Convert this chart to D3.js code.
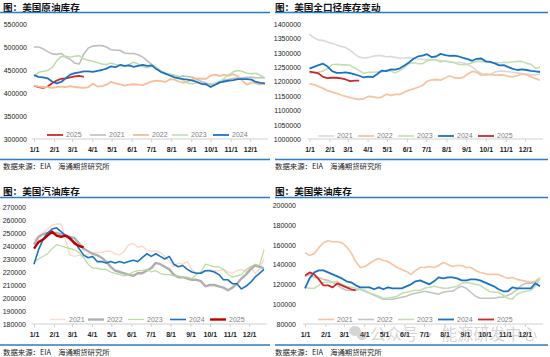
<!DOCTYPE html>
<html><head><meta charset="utf-8">
<script src="https://cdn.jsdelivr.net/npm/d3@7"></script>
<style>
html,body{margin:0;padding:0;background:#fff;}
svg{display:block;font-family:"Liberation Sans",Arial,sans-serif;}
</style></head><body>
<svg id="c" width="550" height="357"></svg>
<script>
// ---------- categories ----------
const weekIndex = d3.range(52);               // weekly observations, week 0 = first week of Jan
const monthStartDays = [0,31,59,90,120,151,181,212,243,273,304,334];
const monthLabels = ["1/1","2/1","3/1","4/1","5/1","6/1","7/1","8/1","9/1","10/1","11/1","12/1"];
const yearNames = ["2021","2022","2023","2024","2025"];

// ---------- tick labels ----------
const crudeTicks = [300000,350000,400000,450000,500000,550000];
const totalTicks = [1000000,1050000,1100000,1150000,1200000,1250000,1300000,1350000,1400000];
const gasTicks = [180000,190000,200000,210000,220000,230000,240000,250000,260000,270000];
const dslTicks = [80000,100000,120000,140000,160000,180000,200000];

// ---------- series: US crude stocks ----------
const crude2021 = [500000,500000,496000,490000,485000,484000,486000,478000,473000,465000,463000,485000,498000,502000,503000,503000,500000,494000,493000,493000,487000,486000,486000,483000,478000,470000,462000,455000,447000,442000,440000,438000,436000,437000,436000,434000,430000,425000,422000,418000,418000,422000,428000,430000,432000,432000,433000,434000,434000,433000,433000,433000];
const crude2022 = [416000,414000,413000,413000,411000,413000,414000,413000,415000,413000,412000,411000,413000,420000,414000,415000,418000,424000,421000,419000,416000,418000,419000,418000,417000,421000,425000,427000,426000,424000,430000,429000,425000,422000,425000,430000,432000,431000,431000,438000,440000,437000,440000,437000,441000,436000,427000,418000,423000,421000,419000,420000];
const crude2023 = [437000,445000,447000,449000,455000,470000,479000,480000,478000,480000,481000,474000,471000,469000,466000,463000,462000,465000,462000,460000,458000,462000,467000,463000,457000,455000,458000,455000,448000,443000,441000,439000,434000,427000,421000,420000,422000,420000,418000,420000,422000,425000,432000,440000,446000,449000,447000,443000,442000,443000,438000,433000];
const crude2024 = [439000,435000,434000,432000,425000,421000,424000,432000,440000,443000,445000,447000,447000,446000,448000,450000,453000,458000,456000,461000,459000,460000,457000,459000,461000,459000,460000,452000,446000,442000,438000,434000,432000,430000,429000,427000,424000,420000,419000,413000,418000,423000,425000,427000,428000,430000,430000,430000,429000,424000,422000,421000];
const crude2025 = [416000,413000,411000,414000,421000,427000,431000,432000,434000,436000,437000,435000];

// ---------- series: US total stocks ----------
const total2021 = [1365000,1352000,1344000,1343000,1337000,1332000,1328000,1322000,1318000,1308000,1295000,1285000,1282000,1283000,1288000,1290000,1290000,1286000,1287000,1284000,1281000,1282000,1284000,1280000,1278000,1277000,1276000,1277000,1275000,1273000,1270000,1269000,1267000,1266000,1265000,1258000,1250000,1238000,1228000,1222000,1225000,1233000,1236000,1236000,1234000,1232000,1230000,1228000,1226000,1223000,1223000,1225000];
const total2022 = [1192000,1189000,1183000,1176000,1168000,1163000,1159000,1153000,1148000,1144000,1140000,1138000,1140000,1148000,1147000,1143000,1146000,1156000,1152000,1155000,1155000,1163000,1170000,1174000,1180000,1186000,1200000,1206000,1207000,1205000,1212000,1220000,1213000,1212000,1214000,1226000,1235000,1232000,1222000,1226000,1224000,1222000,1223000,1222000,1218000,1216000,1220000,1226000,1224000,1216000,1210000,1205000];
const total2023 = [1230000,1231000,1233000,1236000,1245000,1258000,1260000,1258000,1258000,1256000,1247000,1238000,1228000,1232000,1232000,1233000,1233000,1240000,1236000,1230000,1238000,1248000,1262000,1265000,1262000,1262000,1272000,1276000,1275000,1268000,1272000,1268000,1265000,1260000,1258000,1260000,1265000,1270000,1270000,1268000,1266000,1265000,1265000,1266000,1266000,1268000,1270000,1270000,1263000,1260000,1246000,1250000];
const total2024 = [1245000,1251000,1257000,1262000,1252000,1236000,1230000,1230000,1232000,1229000,1225000,1220000,1214000,1217000,1215000,1226000,1238000,1236000,1242000,1241000,1246000,1256000,1266000,1279000,1287000,1290000,1295000,1285000,1287000,1296000,1292000,1289000,1290000,1287000,1282000,1278000,1272000,1279000,1280000,1270000,1268000,1263000,1256000,1257000,1250000,1244000,1240000,1242000,1240000,1237000,1235000,1233000];
const total2025 = [1234000,1232000,1228000,1216000,1212000,1213000,1213000,1211000,1207000,1201000,1203000,1203000];

// ---------- series: US gasoline stocks ----------
const gas2021 = [245000,247000,250000,253000,256000,257000,257000,245000,233000,232000,233000,232000,234000,235000,235000,235000,236000,236000,234000,233000,236000,241000,242000,239000,240000,237000,236000,236000,235000,232000,228000,224000,227000,226000,228000,222000,219000,220000,221000,222000,221000,221000,222000,220000,219000,221000,222000,220000,224000,219000,222000,230000];
const gas2022 = [241000,247000,249000,250000,250000,250000,249000,248000,247000,246000,242000,238000,236000,234000,233000,231000,228000,224000,221000,220000,219000,218000,217000,219000,219000,221000,223000,227000,226000,224000,222000,218000,216000,216000,215000,214000,214000,213000,209000,210000,210000,209000,208000,206000,208000,211000,215000,218000,222000,225000,224000,223000];
const gas2023 = [228000,230000,232000,234000,238000,241000,240000,239000,238000,237000,235000,231000,226000,223000,223000,222000,222000,220000,219000,218000,217000,218000,220000,221000,221000,222000,220000,221000,219000,218000,218000,217000,217000,216000,216000,215000,218000,220000,226000,225000,224000,224000,222000,218000,216000,217000,218000,222000,224000,226000,225000,237000];
const gas2024 = [226000,237000,245000,250000,253000,254000,251000,248000,245000,243000,238000,233000,231000,232000,228000,228000,227000,228000,227000,228000,227000,228000,229000,228000,231000,234000,232000,234000,232000,230000,232000,226000,224000,225000,222000,220000,219000,219000,221000,221000,220000,218000,214000,214000,211000,211000,207000,209000,212000,216000,219000,222000];
const gas2025 = [238000,243000,245000,248000,251000,248000,247000,248000,246000,242000,240000,239000];

// ---------- series: US distillate stocks ----------
const dsl2021 = [152000,149000,151000,157000,162000,164000,163000,163000,162000,158000,152000,143000,137000,138000,141000,144000,146000,144000,143000,140000,137000,135000,133000,130000,134000,137000,137000,138000,137000,139000,142000,140000,138000,139000,139000,137000,137000,134000,132000,131000,130000,130000,130000,128000,126000,127000,125000,124000,123000,122000,123000,127000];
const dsl2022 = [128000,130000,127000,127000,125000,124000,122000,119000,116000,114000,114000,114000,115000,113000,111000,109000,107000,105000,105000,105000,106000,107000,108000,110000,111000,112000,113000,112000,111000,110000,112000,113000,113000,116000,118000,116000,112000,108000,106000,106000,106000,106000,107000,107000,109000,111000,115000,119000,121000,121000,122000,125000];
const dsl2023 = [117000,116000,116000,119000,122000,122000,122000,123000,120000,118000,117000,116000,115000,114000,111000,110000,108000,106000,106000,107000,108000,111000,112000,113000,114000,114000,116000,117000,118000,117000,116000,116000,117000,118000,121000,122000,121000,120000,119000,116000,113000,112000,112000,109000,106000,105000,110000,112000,113000,114000,118000,126000];
const dsl2024 = [116000,126000,132000,134000,134000,132000,130000,128000,126000,123000,122000,119000,117000,117000,117000,115000,117000,115000,117000,116000,116000,116000,118000,120000,123000,124000,122000,120000,123000,127000,126000,127000,127000,126000,124000,124000,125000,125000,124000,122000,120000,118000,115000,113000,113000,117000,116000,116000,116000,116000,121000,118000];
const dsl2025 = [129000,132000,130000,125000,119000,119000,117000,121000,119000,117000,115000,114000];

// ---------- layout / style ----------
const svg = d3.select("#c");
const BLUE = "#1a73c2", RED = "#d0262a";

const panels = [
  { title:"图：美国原油库存", left:0, right:270, tx:3, titleY:11, lineY:12.5, botY:159.5, srcY:169,
    x0:34, x1:265, yTop:24, yBot:139, ticks:crudeTicks, labelRight:27, xLabY:152,
    legY:135, legX:[47,90,133,172,213],
    series:[
      {name:"2025", data:crude2025, color:RED, w:1.8},
      {name:"2021", data:crude2021, color:"#bfbfbf", w:1.6},
      {name:"2022", data:crude2022, color:"#f7bd97", w:1.8},
      {name:"2023", data:crude2023, color:"#bcdda4", w:1.5},
      {name:"2024", data:crude2024, color:BLUE, w:1.8}]},
  { title:"图：美国全口径库存变动", left:275, right:548, tx:275, titleY:11, lineY:12.5, botY:159.5, srcY:169,
    x0:309.5, x1:540, yTop:24, yBot:139, ticks:totalTicks, labelRight:301, xLabY:152,
    legY:136, legX:[318,358,398,438,478],
    series:[
      {name:"2021", data:total2021, color:"#d9d9d9", w:1.6},
      {name:"2022", data:total2022, color:"#f8c4a0", w:1.8},
      {name:"2023", data:total2023, color:"#c2e0ad", w:1.6},
      {name:"2024", data:total2024, color:BLUE, w:1.8},
      {name:"2025", data:total2025, color:RED, w:1.8}]},
  { title:"图：美国汽油库存", left:0, right:270, tx:3, titleY:195, lineY:197.5, botY:345, srcY:355,
    x0:34, x1:264, yTop:207, yBot:324, ticks:gasTicks, labelRight:26, xLabY:337,
    legY:319.5, legX:[50,88,128,170,210],
    series:[
      {name:"2021", data:gas2021, color:"#fbdccb", w:1.5},
      {name:"2022", data:gas2022, color:"#afafaf", w:2.4},
      {name:"2023", data:gas2023, color:"#b5dc9a", w:1.2},
      {name:"2024", data:gas2024, color:BLUE, w:1.6},
      {name:"2025", data:gas2025, color:"#c00000", w:2.4}]},
  { title:"图：美国柴油库存", left:275, right:548, tx:275, titleY:195, lineY:197.5, botY:345, srcY:355,
    x0:305, x1:540, yTop:205, yBot:324, ticks:dslTicks, labelRight:296, xLabY:337,
    legY:319.5, legX:[318,358,398,438,478],
    series:[
      {name:"2021", data:dsl2021, color:"#f8c3a0", w:1.6},
      {name:"2022", data:dsl2022, color:"#c4c4c4", w:1.6},
      {name:"2023", data:dsl2023, color:"#c2e0ad", w:1.6},
      {name:"2024", data:dsl2024, color:BLUE, w:1.8},
      {name:"2025", data:dsl2025, color:RED, w:1.8}]}
];

panels.forEach(p => {
  const g = svg.append("g");
  const x = d3.scaleLinear().domain([0, 357]).range([p.x0, p.x1]);
  const y = d3.scaleLinear().domain([p.ticks[0], p.ticks[p.ticks.length-1]]).range([p.yBot, p.yTop]);

  // title & rules
  g.append("text").attr("x", p.tx).attr("y", p.titleY).text(p.title)
    .style("font-family", "'Noto Sans CJK SC',sans-serif").style("font-size","9.6px")
    .style("font-weight","bold").attr("fill","#111");
  g.append("line").attr("x1", p.left).attr("x2", p.right).attr("y1", p.lineY).attr("y2", p.lineY)
    .attr("stroke", "#2a7bc8").attr("stroke-width", 1.3);
  g.append("line").attr("x1", p.left).attr("x2", p.right).attr("y1", p.botY).attr("y2", p.botY)
    .attr("stroke", "#2a7bc8").attr("stroke-width", 1.3);
  g.append("text").attr("x", p.tx).attr("y", p.srcY).text("数据来源：EIA")
    .style("font-family", "'Noto Sans CJK SC',sans-serif").style("font-size","7.4px").attr("fill","#222");
  g.append("text").attr("x", p.tx + 55).attr("y", p.srcY).text("海通期货研究所")
    .style("font-family", "'Noto Sans CJK SC',sans-serif").style("font-size","7.4px").attr("fill","#222");

  // y axis labels (no line)
  const yAxis = d3.axisLeft(y).tickValues(p.ticks).tickSize(0).tickPadding(0).tickFormat(d3.format("d"));
  const ya = g.append("g").attr("transform", `translate(${p.labelRight},0)`).call(yAxis);
  ya.select(".domain").remove();
  ya.selectAll("text").style("font-size","7px").attr("fill","#222").attr("dy","0.35em");

  // x axis
  const xAxis = d3.axisBottom(x).tickValues(monthStartDays).tickSize(3)
    .tickFormat((d,i) => monthLabels[i]);
  const xa = g.append("g").attr("transform", `translate(0,${p.yBot})`).call(xAxis);
  xa.select(".domain").attr("d", `M${p.x0-2},0H${p.x1+3}`).attr("stroke","#d0d0d0");
  xa.selectAll(".tick line").attr("stroke","#d0d0d0");
  xa.selectAll("text").style("font-size","7px").style("font-weight","bold").attr("fill","#222")
    .attr("y", p.xLabY - p.yBot).attr("dy", 0);

  // series
  const line = d3.line().x((v,i) => x(weekIndex[i]*7)).y(v => y(v));
  p.series.forEach(s => {
    g.append("path").datum(s.data).attr("d", line).attr("fill","none")
      .attr("stroke", s.color).attr("stroke-width", s.w).attr("stroke-linejoin","round");
  });

  // legend
  p.series.forEach((s, i) => {
    const lx = p.legX[i];
    g.append("line").attr("x1", lx).attr("x2", lx+16).attr("y1", p.legY).attr("y2", p.legY)
      .attr("stroke", s.color).attr("stroke-width", s.w);
    g.append("text").attr("x", lx+19).attr("y", p.legY).attr("dy","0.35em").text(s.name)
      .style("font-size","7px").attr("fill","#808080");
  });
});

// watermark
const wm = svg.append("g").attr("opacity", 0.35);
wm.append("ellipse").attr("cx",355).attr("cy",331).attr("rx",6).attr("ry",5).attr("fill","#8a8a8a");
wm.append("ellipse").attr("cx",362).attr("cy",336).attr("rx",5).attr("ry",4).attr("fill","#8a8a8a");
wm.append("text").attr("x",370).attr("y",340).text("公众号 · 能源研发中心")
  .style("font-family","'Noto Sans CJK SC',sans-serif").style("font-size","16px").attr("fill","#8a8a8a");
</script>
</body></html>
